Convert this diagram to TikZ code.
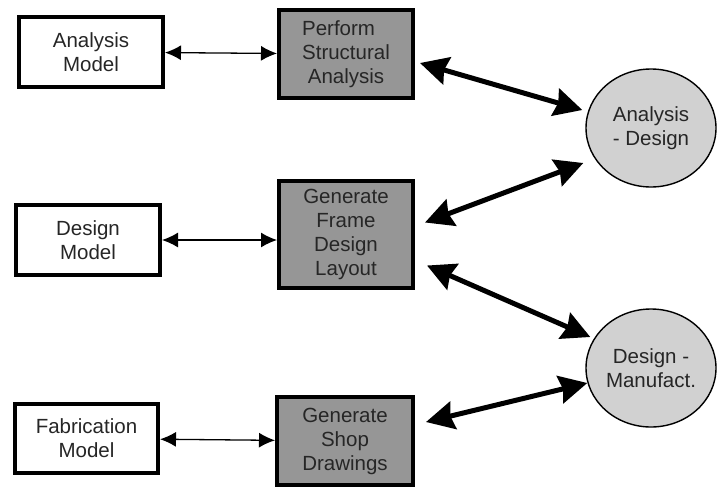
\documentclass[tikz,border=0pt]{standalone}
\usepackage{fontspec}
\setmainfont{Liberation Sans}
\usetikzlibrary{arrows.meta}
\usetikzlibrary{shapes.geometric}
\pgfdeclarelayer{edgelayer}
\pgfdeclarelayer{nodelayer}
\pgfsetlayers{edgelayer,nodelayer,main}
\tikzstyle{model}=[rectangle,fill=white,draw=black,line width=4pt,inner sep=2pt,text=black!85,align=center,font=\fontsize{20.5}{24}\selectfont]
\tikzstyle{task}=[model,fill=black!41]
\tikzstyle{interface}=[ellipse,fill=black!18,draw=black,line width=1.4pt,inner sep=0pt,minimum width=130pt,minimum height=118pt,text=black!85,align=center,font=\fontsize{20.5}{24}\selectfont]
\tikzstyle{assoc}=[{Latex[length=16pt,width=15pt]}-{Latex[length=16pt,width=15pt]},line width=1.3pt,draw=black]
\tikzstyle{link}=[{Stealth[length=28pt,width=28pt,inset=3pt]}-{Stealth[length=28pt,width=28pt,inset=3pt]},line width=5pt,draw=black]

\begin{document}
\begin{tikzpicture}[x=1pt,y=1pt]
	\useasboundingbox (0,0) rectangle (717,-488);
	\begin{pgfonlayer}{nodelayer}
		\node [style=model, minimum width=144pt, minimum height=70pt] (0) at (91, -52) {Analysis\\Model};
		\node [style=model, minimum width=144pt, minimum height=70pt] (1) at (88, -240) {Design\\Model};
		\node [style=model, minimum width=143pt, minimum height=69pt] (2) at (86.5, -438.5) {Fabrication\\Model};
		\node [style=task, minimum width=134pt, minimum height=88pt, align=left] (3) at (346, -54) {Perform\\Structural\\\ Analysis};
		\node [style=task, minimum width=134pt, minimum height=107pt] (4) at (346, -234.5) {Generate\\Frame\\Design\\Layout};
		\node [style=task, minimum width=136pt, minimum height=88pt] (5) at (345, -441) {Generate\\Shop\\Drawings};
		\node [style=interface] (6) at (651, -128) {Analysis\\- Design};
		\node [style=interface] (7) at (651, -368) {Design -\\Manufact.};
	\end{pgfonlayer}
	\begin{pgfonlayer}{edgelayer}
		\draw [style=assoc] (0) to (3);
		\draw [style=assoc] (1.east) to (1.east -| 4.west);
		\draw [style=assoc] (2) to (5);
		\draw [style=link] ([shift={(5,-9)}]3.east) to ([shift={(-3,18)}]6.west);
		\draw [style=link] ([shift={(10,12)}]4.east) to ([shift={(-2,-35)}]6.west);
		\draw [style=link] ([shift={(12,-31)}]4.east) to ([shift={(5,31)}]7.west);
		\draw [style=link] ([shift={(11,19)}]5.east) to ([shift={(2,-15)}]7.west);
	\end{pgfonlayer}
\end{tikzpicture}
\end{document}
